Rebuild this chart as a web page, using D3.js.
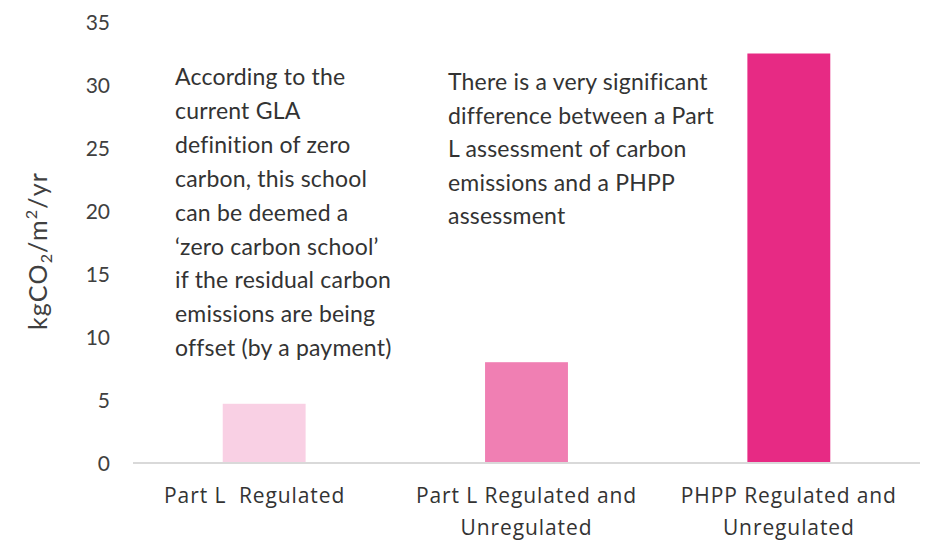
<!DOCTYPE html>
<html>
<head>
<meta charset="utf-8">
<script src="https://cdn.jsdelivr.net/npm/d3@7"></script>
<style>
  html, body { margin: 0; padding: 0; background: #fff; }
  svg { display: block; }
  .cat { white-space: pre; }
</style>
</head>
<body>
<svg id="chart" width="927" height="540"></svg>
<script>
// Carbon emissions per floor area, three assessment methods
const categories = [
  ["Part L  Regulated   "],
  ["Part L Regulated and", "Unregulated"],
  ["PHPP Regulated and", "Unregulated"]
];
const values = [4.7, 8.0, 32.5];
const barColors = ["#f9d0e4", "#f07fb3", "#e72a84"];
const yTicks = [0, 5, 10, 15, 20, 25, 30, 35];

const noteLeft = [
  "According to the",
  "current GLA",
  "definition of zero",
  "carbon, this school",
  "can be deemed a",
  "\u2018zero carbon school\u2019",
  "if the residual carbon",
  "emissions are being",
  "offset (by a payment)"
];
const noteRight = [
  "There is a very significant",
  "difference between a Part",
  "L assessment of carbon",
  "emissions and a PHPP",
  "assessment"
];

const svg = d3.select("#chart");
const plot = { left: 133, right: 920, top: 22, bottom: 463 };

const x = d3.scaleBand()
  .domain(d3.range(categories.length))
  .range([plot.left, plot.right])
  .padding(0);
const barW = x.bandwidth() * 0.316;

const y = d3.scaleLinear().domain([0, 35]).range([plot.bottom, plot.top]);

const textFont = "Lato, 'Noto Sans', sans-serif";
const catFont = "'Open Sans', 'Noto Sans', sans-serif";

// bars
svg.append("g").selectAll("rect")
  .data(values)
  .join("rect")
  .attr("x", (d, i) => x(i) + x.bandwidth() / 2 - barW / 2)
  .attr("y", d => y(d))
  .attr("width", barW)
  .attr("height", d => y(0) - y(d))
  .attr("fill", (d, i) => barColors[i]);

// baseline
svg.append("line")
  .attr("x1", plot.left).attr("x2", plot.right)
  .attr("y1", y(0)).attr("y2", y(0))
  .attr("stroke", "#d9d9d9").attr("stroke-width", 2);

// y axis labels
const yAxis = d3.axisLeft(y).tickValues(yTicks).tickSize(0).tickPadding(0);
const yg = svg.append("g")
  .attr("transform", `translate(${plot.left - 23},0)`)
  .call(yAxis);
yg.select(".domain").remove();
yg.selectAll("text")
  .attr("font-family", textFont)
  .attr("font-size", 21)
  .attr("fill", "#404040")
  .attr("dy", "0.35em");

// y axis title
const yt = svg.append("text")
  .attr("transform", "translate(47,251) rotate(-90)")
  .attr("text-anchor", "middle")
  .attr("font-family", textFont)
  .attr("font-size", 25)
  .attr("letter-spacing", 1.2)
  .attr("fill", "#404040");
yt.append("tspan").text("kgCO");
yt.append("tspan").text("2").attr("font-size", 16).attr("dy", 5);
yt.append("tspan").text("/m").attr("dy", -5);
yt.append("tspan").text("2").attr("font-size", 16).attr("dy", -10);
yt.append("tspan").text("/yr").attr("dy", 10);

// category labels
const cg = svg.append("g");
categories.forEach((lines, i) => {
  const t = cg.append("text")
    .attr("class", "cat")
    .attr("text-anchor", "middle")
    .attr("font-family", catFont)
    .attr("font-size", 21)
    .attr("letter-spacing", 0.9)
    .attr("fill", "#333333");
  lines.forEach((ln, j) => {
    t.append("tspan")
      .attr("x", x(i) + x.bandwidth() / 2)
      .attr("y", 503 + j * 32)
      .text(ln);
  });
});

// annotations
function note(lines, x0, y0, lh) {
  const t = svg.append("text")
    .attr("font-family", textFont)
    .attr("font-size", 23)
    .attr("letter-spacing", 0.2)
    .attr("fill", "#333333");
  lines.forEach((ln, j) => {
    t.append("tspan").attr("x", x0).attr("y", y0 + j * lh).text(ln);
  });
}
note(noteLeft, 175, 85, 33.9);
note(noteRight, 448, 90, 33.5);
</script>
</body>
</html>
